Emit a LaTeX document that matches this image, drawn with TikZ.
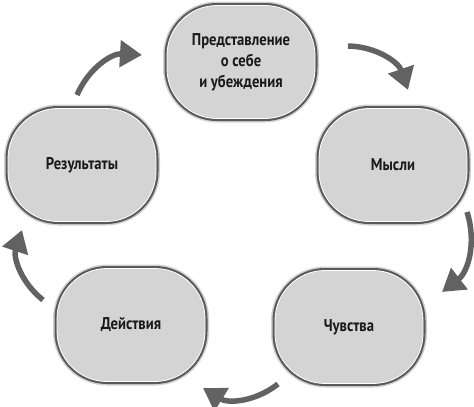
\documentclass[tikz,border=0pt]{standalone}
\usepackage{fontspec}
\setmainfont{PT Sans}[FakeStretch=0.86]
\usetikzlibrary{arrows.meta}
\definecolor{boxfill}{HTML}{D4D4D4}
\definecolor{boxline}{HTML}{5A5A5A}
\definecolor{arrowgray}{HTML}{626262}
\tikzset{
  stage/.style={rounded corners=50pt, minimum width=148pt, minimum height=113pt,
    fill=boxfill, draw=white, line width=0.8pt, align=center, text=black!90,
    font=\fontsize{17}{21}\selectfont\bfseries,
    preaction={draw=black!18, line width=8pt},
    preaction={draw=boxline, line width=5pt}},
  cyc/.style={draw=arrowgray, line width=5.5pt,
    -{Triangle[width=26pt,length=22pt]}, bend left=35}
}
\begin{document}
\begin{tikzpicture}[x=1pt,y=-1pt]
  \useasboundingbox (0,0) rectangle (474,407);
  \node[stage] (self) at (241,62) {Представление\\о себе\\и убеждения};
  \node[stage] (thought) at (393,165) {Мысли};
  \node[stage] (feel) at (349,327) {Чувства};
  \node[stage] (act) at (131,325) {Действия};
  \node[stage] (result) at (82,165) {Результаты};
  \coordinate (r1) at (77,95);   \coordinate (r2) at (142,55);
  \coordinate (s1) at (348,46);  \coordinate (s2) at (408,90);
  \coordinate (t1) at (467,212); \coordinate (t2) at (442,292);
  \coordinate (f1) at (278,384); \coordinate (f2) at (203,388);
  \coordinate (a1) at (43,300);  \coordinate (a2) at (22,230);
  \draw[cyc] (r1) to (r2);
  \draw[cyc] (s1) to (s2);
  \draw[cyc] (t1) to (t2);
  \draw[cyc] (f1) to (f2);
  \draw[cyc] (a1) to (a2);
\end{tikzpicture}
\end{document}
